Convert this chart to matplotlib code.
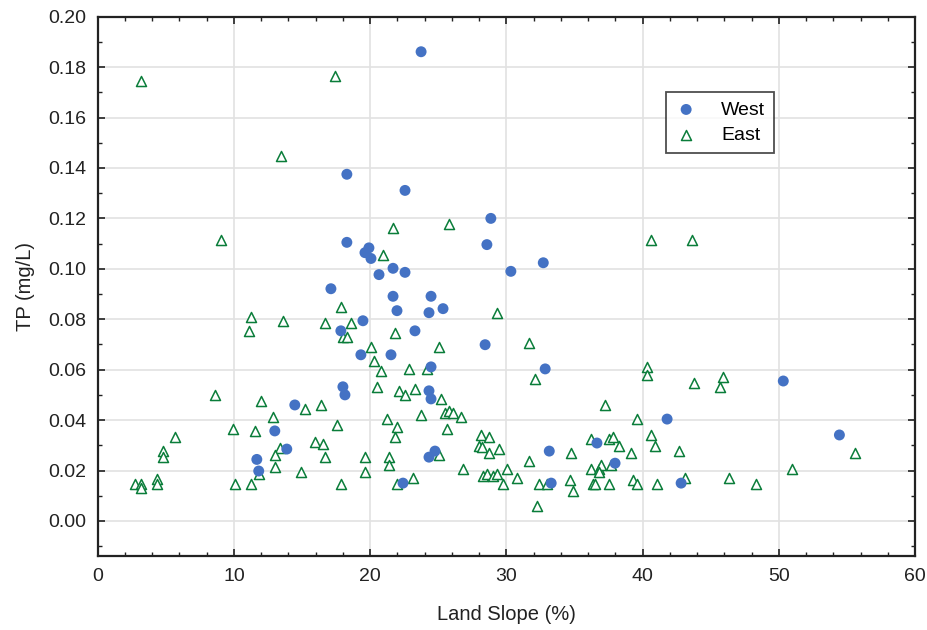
import matplotlib

matplotlib.use("Agg")
import matplotlib.pyplot as plt
from matplotlib.ticker import MultipleLocator

plt.rcParams["font.family"] = ["Liberation Sans", "DejaVu Sans"]

# West sites: land slope (%) and TP (mg/L)
west_slope = [23.74, 18.29, 22.56, 28.86, 18.29, 28.57, 19.91, 19.62, 20.06, 32.71,
              21.68, 22.56, 20.65, 30.33, 17.12, 21.68, 24.47, 21.97, 24.32, 25.35,
              19.47, 17.85, 23.29, 28.44, 19.32, 21.53, 24.47, 32.85, 18.00, 18.15,
              24.32, 24.47, 14.47, 13.00, 13.88, 11.68, 11.82, 24.76, 24.32, 22.41,
              33.15, 33.29, 36.65, 37.98, 41.80, 42.83, 50.33, 54.45]
west_tp = [0.1861, 0.1375, 0.1311, 0.1200, 0.1105, 0.1096, 0.1083, 0.1064, 0.1041, 0.1024,
           0.1002, 0.0986, 0.0977, 0.0990, 0.0921, 0.0891, 0.0891, 0.0834, 0.0826, 0.0842,
           0.0794, 0.0754, 0.0754, 0.0699, 0.0659, 0.0659, 0.0611, 0.0603, 0.0532, 0.0500,
           0.0516, 0.0484, 0.0460, 0.0357, 0.0285, 0.0244, 0.0198, 0.0277, 0.0253, 0.0150,
           0.0277, 0.0150, 0.0309, 0.0229, 0.0404, 0.0150, 0.0555, 0.0341]

# East sites
east_slope = [3.15, 17.39, 13.44, 9.03, 21.68, 25.79, 20.94, 40.63, 43.62,
              17.85, 11.24, 13.59, 16.68, 18.59, 11.09, 18.00, 18.29, 20.06, 20.31,
              8.59, 11.97, 15.21, 16.38, 12.85, 17.56, 9.91, 11.53, 5.65, 15.94,
              16.53, 13.40, 4.76, 4.76, 13.00, 16.68, 19.62, 13.00, 11.82, 14.91,
              19.62, 4.32, 4.32, 2.71, 3.15, 3.15, 10.06, 11.24, 17.85,
              29.32, 21.82, 25.06, 31.68, 20.79, 22.85, 24.18, 32.12, 20.50, 22.12,
              22.56, 23.29, 25.21, 23.74, 21.24, 25.50, 25.79, 26.09, 26.68, 21.97,
              25.65, 21.82, 28.15, 28.74, 28.00, 28.20, 29.47, 28.74, 21.38, 25.06,
              31.68, 34.76, 36.24, 21.38, 26.82, 28.29, 28.59, 29.03, 29.32, 30.06,
              30.79, 29.76, 32.41, 33.00, 32.26, 34.68, 34.91, 36.24, 36.38, 21.97,
              23.15,
              40.35, 40.35, 43.74, 45.94, 45.65, 37.26, 39.62, 40.65, 40.94, 37.56,
              37.85, 38.29, 39.18, 42.71, 55.60, 50.94, 36.82, 36.97, 37.71, 36.82,
              36.53, 37.56, 39.32, 39.62, 41.09, 43.15, 46.38, 48.29]
east_tp = [0.1743, 0.1765, 0.1447, 0.1113, 0.1160, 0.1176, 0.1056, 0.1113, 0.1113,
           0.0848, 0.0808, 0.0792, 0.0786, 0.0786, 0.0753, 0.0729, 0.0729, 0.0689, 0.0633,
           0.0498, 0.0474, 0.0443, 0.0458, 0.0411, 0.0379, 0.0363, 0.0355, 0.0331, 0.0315,
           0.0307, 0.0291, 0.0276, 0.0252, 0.0260, 0.0252, 0.0252, 0.0212, 0.0188, 0.0196,
           0.0196, 0.0166, 0.0148, 0.0148, 0.0148, 0.0130, 0.0148, 0.0148, 0.0148,
           0.0826, 0.0746, 0.0689, 0.0705, 0.0594, 0.0602, 0.0602, 0.0562, 0.0530, 0.0514,
           0.0498, 0.0522, 0.0482, 0.0419, 0.0403, 0.0427, 0.0435, 0.0427, 0.0411, 0.0371,
           0.0363, 0.0331, 0.0339, 0.0331, 0.0299, 0.0295, 0.0284, 0.0268, 0.0252, 0.0260,
           0.0236, 0.0268, 0.0323, 0.0220, 0.0204, 0.0180, 0.0188, 0.0180, 0.0188, 0.0204,
           0.0172, 0.0148, 0.0148, 0.0148, 0.0061, 0.0164, 0.0117, 0.0204, 0.0148, 0.0148,
           0.0172,
           0.0610, 0.0577, 0.0546, 0.0570, 0.0530, 0.0458, 0.0403, 0.0339, 0.0299, 0.0323,
           0.0331, 0.0299, 0.0268, 0.0276, 0.0268, 0.0204, 0.0204, 0.0220, 0.0220, 0.0196,
           0.0148, 0.0148, 0.0164, 0.0148, 0.0148, 0.0172, 0.0172, 0.0148]

y_ticks = [0.00, 0.02, 0.04, 0.06, 0.08, 0.10, 0.12, 0.14, 0.16, 0.18, 0.20]

fig = plt.figure(figsize=(9.28, 6.3), dpi=100)
ax = fig.add_axes([0.1053, 0.1175, 0.8807, 0.856])

ax.scatter(east_slope, east_tp, marker="^", s=52, facecolors="white",
           edgecolors="#0a7d3a", linewidths=1.1, label="East", zorder=3)
ax.scatter(west_slope, west_tp, marker="o", s=62, color="#4472c4",
           edgecolors="none", label="West", zorder=4)

ax.set_xlim(0, 60)
ax.set_ylim(-0.0139, 0.20)
ax.xaxis.set_major_locator(MultipleLocator(10))
ax.xaxis.set_minor_locator(MultipleLocator(2))
ax.set_yticks(y_ticks)
ax.yaxis.set_minor_locator(MultipleLocator(0.01))
ax.yaxis.set_major_formatter(lambda v, pos: f"{v:.2f}")

ax.grid(True, which="major", color="#e2e2e2", linewidth=1.2, zorder=0)
ax.set_axisbelow(True)
ax.tick_params(which="both", direction="in", top=True, right=True,
               labelsize=14, colors="#222222")
ax.tick_params(axis="y", pad=8)
ax.tick_params(axis="x", pad=9)
ax.tick_params(which="major", length=5, width=1.2)
ax.tick_params(which="minor", length=3, width=1.0)
for spine in ax.spines.values():
    spine.set_linewidth(1.6)
    spine.set_color("#222222")

ax.set_xlabel("Land Slope (%)", fontsize=14.5, color="#222222", labelpad=14)
ax.set_ylabel("TP (mg/L)", fontsize=14.5, color="#222222", labelpad=10)

handles, labels = ax.get_legend_handles_labels()
leg = ax.legend(handles[::-1], labels[::-1], loc="upper left",
                bbox_to_anchor=(0.695, 0.860), borderaxespad=0, fontsize=14,
                frameon=True, fancybox=False, edgecolor="#222222",
                handlelength=1.2, handletextpad=1.2, borderpad=0.45,
                labelspacing=0.4)
leg.get_frame().set_linewidth(1.3)

fig.savefig("out.png", dpi=100)
